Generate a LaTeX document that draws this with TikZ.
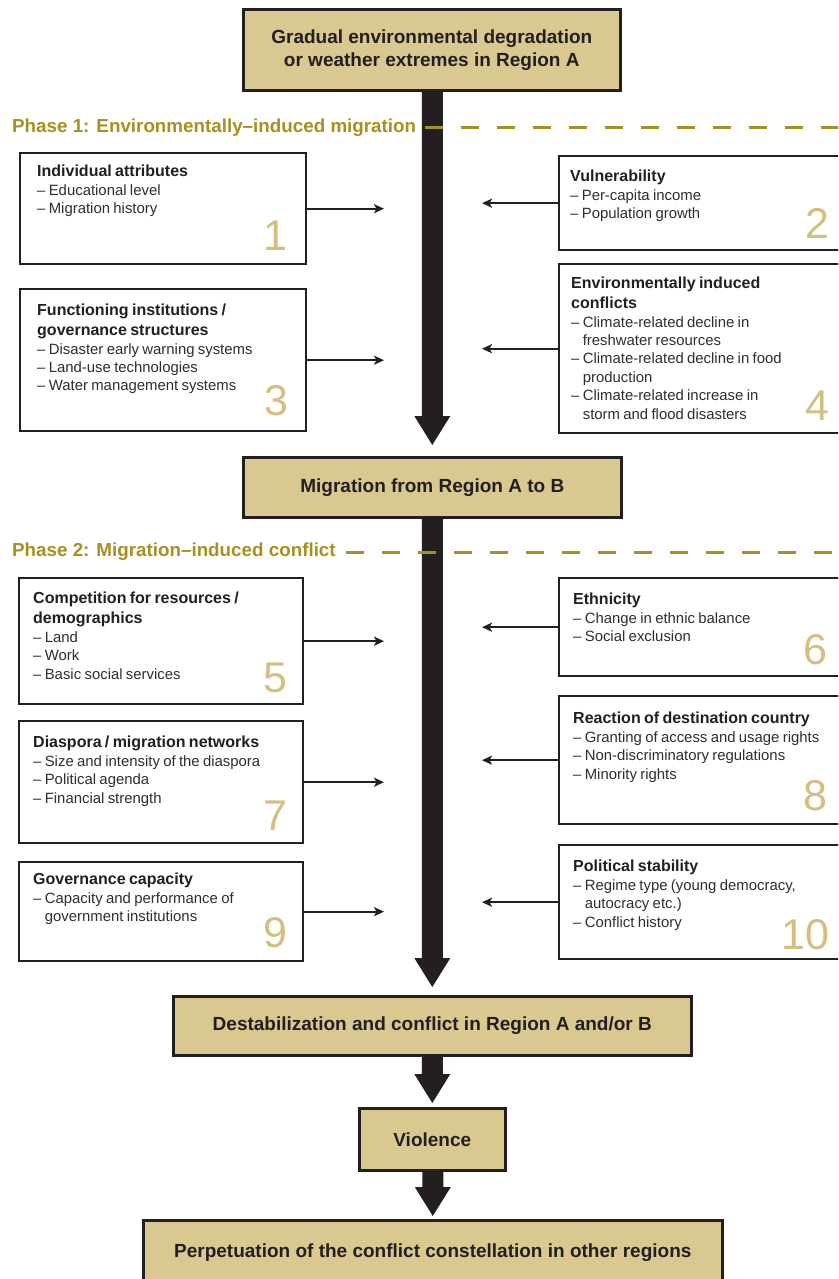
\documentclass[tikz,border=0pt]{standalone}
\usepackage{fontspec}
\setmainfont{Liberation Sans}
\usetikzlibrary{arrows.meta,calc}
\definecolor{boxtan}{HTML}{D9C88F}
\definecolor{phasegold}{HTML}{A8901E}
\definecolor{numgold}{HTML}{D4BF7E}
\definecolor{ink}{HTML}{231F20}
\definecolor{itemink}{HTML}{2E2E2E}
\newcommand{\mainfs}{\fontsize{19}{23}\selectfont\bfseries}
\newcommand{\headfs}{\fontsize{16}{20}\selectfont\bfseries}
\newcommand{\itemfs}{\fontsize{14.9}{18.4}\selectfont\color{itemink}}
\newcommand{\numfs}{\fontsize{43}{43}\selectfont}
\newcommand{\ind}{\phantom{– }}
\newcommand{\infotext}[2]{{\headfs #1\par}{\itemfs #2\par}}
\newcommand{\bigarrow}[3]{\fill[ink] ($(#2 |- #1)+(-10.5,0)$) -- ($(#2)+(-10.5,-#3-29)$) -- ($(#2)+(-18,-#3-29)$) -- ($(#2)+(0,-#3)$) -- ($(#2)+(18,-#3-29)$) -- ($(#2)+(10.5,-#3-29)$) -- ($(#2 |- #1)+(10.5,0)$) -- cycle;}
\setlength{\parindent}{0pt}
\setlength{\parskip}{0pt}
\begin{document}
\begin{tikzpicture}[x=1pt,y=-1pt,
  mainbox/.style={draw=ink, line width=2.6pt, fill=boxtan, font=\mainfs, text=ink, align=center, inner sep=0, anchor=north west},
  infobox/.style={draw=ink, line width=2.4pt, fill=white, anchor=north west, inner sep=0},
  info/.style={anchor=north west, text width=330pt, align=left, inner sep=0, text=ink},
  num/.style={anchor=base east, font=\numfs, text=numgold, inner sep=0},
  thinarr/.style={draw=ink, line width=2pt, -{Stealth[length=10pt,width=9pt,inset=2.5pt]}},
  phase/.style={font=\fontsize{18.8}{22}\selectfont\bfseries, text=phasegold, anchor=west, inner sep=0},
  phaseline/.style={draw=phasegold, line width=3pt, dash pattern=on 18pt off 18pt}]
\useasboundingbox (0,0) rectangle (838,1279);
\clip (0,0) rectangle (838,1279);
\fill[white] (0,0) rectangle (838,1279);

\coordinate (tipL) at (384,0);
\coordinate (tipR) at (482,0);

% main boxes
\node[mainbox, minimum width=377pt, minimum height=81pt] (top) at (242,8) {Gradual environmental degradation\\or weather extremes in Region A};
\node[mainbox, minimum width=378pt, minimum height=60pt] (mig) at (242,456) {Migration from Region A to B};
\node[mainbox, minimum width=518pt, minimum height=59pt] (dest) at (172,995) {Destabilization and conflict in Region A and/or B};
\node[mainbox, minimum width=146pt, minimum height=62pt] (viol) at (358,1107) {Violence};
\node[mainbox, minimum width=579pt, minimum height=64pt] (perp) at (142,1219) {Perpetuation of the conflict constellation in other regions};

% shafts
\bigarrow{top.south}{mig.north}{11}
\bigarrow{mig.south}{dest.north}{8}
\bigarrow{dest.south}{viol.north}{4}
\bigarrow{viol.south}{perp.north}{3}

% phases
\node[phase] (ph1) at (12,128) {Phase 1: Environmentally–induced migration};
\draw[phaseline] ([xshift=9pt]ph1.east) -- (ph1.east -| 850,0);
\node[phase] (ph2) at (12,552) {Phase 2: Migration–induced conflict};
\draw[phaseline] ([xshift=10pt]ph2.east) -- (ph2.east -| 850,0);

% info boxes left
\node[infobox, minimum width=286pt, minimum height=111pt] (b1) at (19,152) {};
\node[infobox, minimum width=286pt, minimum height=142pt] (b3) at (19,288) {};
\node[infobox, minimum width=284pt, minimum height=126pt] (b5) at (18,577) {};
\node[infobox, minimum width=284pt, minimum height=122pt] (b7) at (18,720) {};
\node[infobox, minimum width=284pt, minimum height=99pt] (b9) at (18,861) {};
% info boxes right
\node[infobox, minimum width=300pt, minimum height=94pt] (b2) at (558,155) {};
\node[infobox, minimum width=300pt, minimum height=169pt] (b4) at (558,263) {};
\node[infobox, minimum width=300pt, minimum height=98pt] (b6) at (558,577) {};
\node[infobox, minimum width=300pt, minimum height=128pt] (b8) at (558,695) {};
\node[infobox, minimum width=300pt, minimum height=114pt] (b10) at (558,844) {};

% texts
\node[info] (t1) at ($(b1.north west)+(18,13)$) {\infotext{Individual attributes}{– Educational level\par – Migration history}};
\node[info] (t3) at ($(b3.north west)+(18,16)$) {\infotext{Functioning institutions /\par governance structures}{– Disaster early warning systems\par – Land-use technologies\par – Water management systems}};
\node[info] (t5) at ($(b5.north west)+(15,15)$) {\infotext{Competition for resources /\par demographics}{– Land\par – Work\par – Basic social services}};
\node[info] (t7) at ($(b7.north west)+(15,16)$) {\infotext{Diaspora / migration networks}{– Size and intensity of the diaspora\par – Political agenda\par – Financial strength}};
\node[info] (t9) at ($(b9.north west)+(15,12)$) {\infotext{Governance capacity}{– Capacity and performance of\par \ind government institutions}};
\node[info] (t2) at ($(b2.north west)+(12,15)$) {\infotext{Vulnerability}{– Per-capita income\par – Population growth}};
\node[info] (t4) at ($(b4.north west)+(13,14)$) {\infotext{Environmentally induced\par conflicts}{– Climate-related decline in\par \ind freshwater resources\par – Climate-related decline in food\par \ind production\par – Climate-related increase in\par \ind storm and flood disasters}};
\node[info] (t6) at ($(b6.north west)+(15,16)$) {\infotext{Ethnicity}{– Change in ethnic balance\par – Social exclusion}};
\node[info] (t8) at ($(b8.north west)+(15,17)$) {\infotext{Reaction of destination country}{– Granting of access and usage rights\par – Non-discriminatory regulations\par – Minority rights}};
\node[info] (t10) at ($(b10.north west)+(15,16)$) {\infotext{Political stability}{– Regime type (young democracy,\par \ind autocracy etc.)\par – Conflict history}};

% numbers
\node[num] (n1) at ($(b1.south east)+(-20,-15)$) {1};
\node[num] (n3) at ($(b3.south east)+(-19,-17)$) {3};
\node[num] (n5) at ($(b5.south east)+(-17,-13)$) {5};
\node[num] (n7) at ($(b7.south east)+(-17,-14)$) {7};
\node[num] (n9) at ($(b9.south east)+(-17,-15)$) {9};
\node[num] (n2) at ($(b2.south west)+(272,-13)$) {2};
\node[num] (n4) at ($(b4.south west)+(272,-14)$) {4};
\node[num] (n6) at ($(b6.south west)+(270,-13)$) {6};
\node[num] (n8) at ($(b8.south west)+(270,-15)$) {8};
\node[num] (n10) at ($(b10.south west)+(272,-11)$) {10};

% thin arrows
\draw[thinarr] (b1.east) -- (b1.east -| tipL);
\draw[thinarr] (b3.east) -- (b3.east -| tipL);
\draw[thinarr] (b5.east) -- (b5.east -| tipL);
\draw[thinarr] (b7.east) -- (b7.east -| tipL);
\draw[thinarr] (b9.east) -- (b9.east -| tipL);
\draw[thinarr] (b2.west) -- (b2.west -| tipR);
\draw[thinarr] (b4.west) -- (b4.west -| tipR);
\draw[thinarr] (b6.west) -- (b6.west -| tipR);
\draw[thinarr] (b8.west) -- (b8.west -| tipR);
\draw[thinarr] (b10.west) -- (b10.west -| tipR);
\end{tikzpicture}
\end{document}
